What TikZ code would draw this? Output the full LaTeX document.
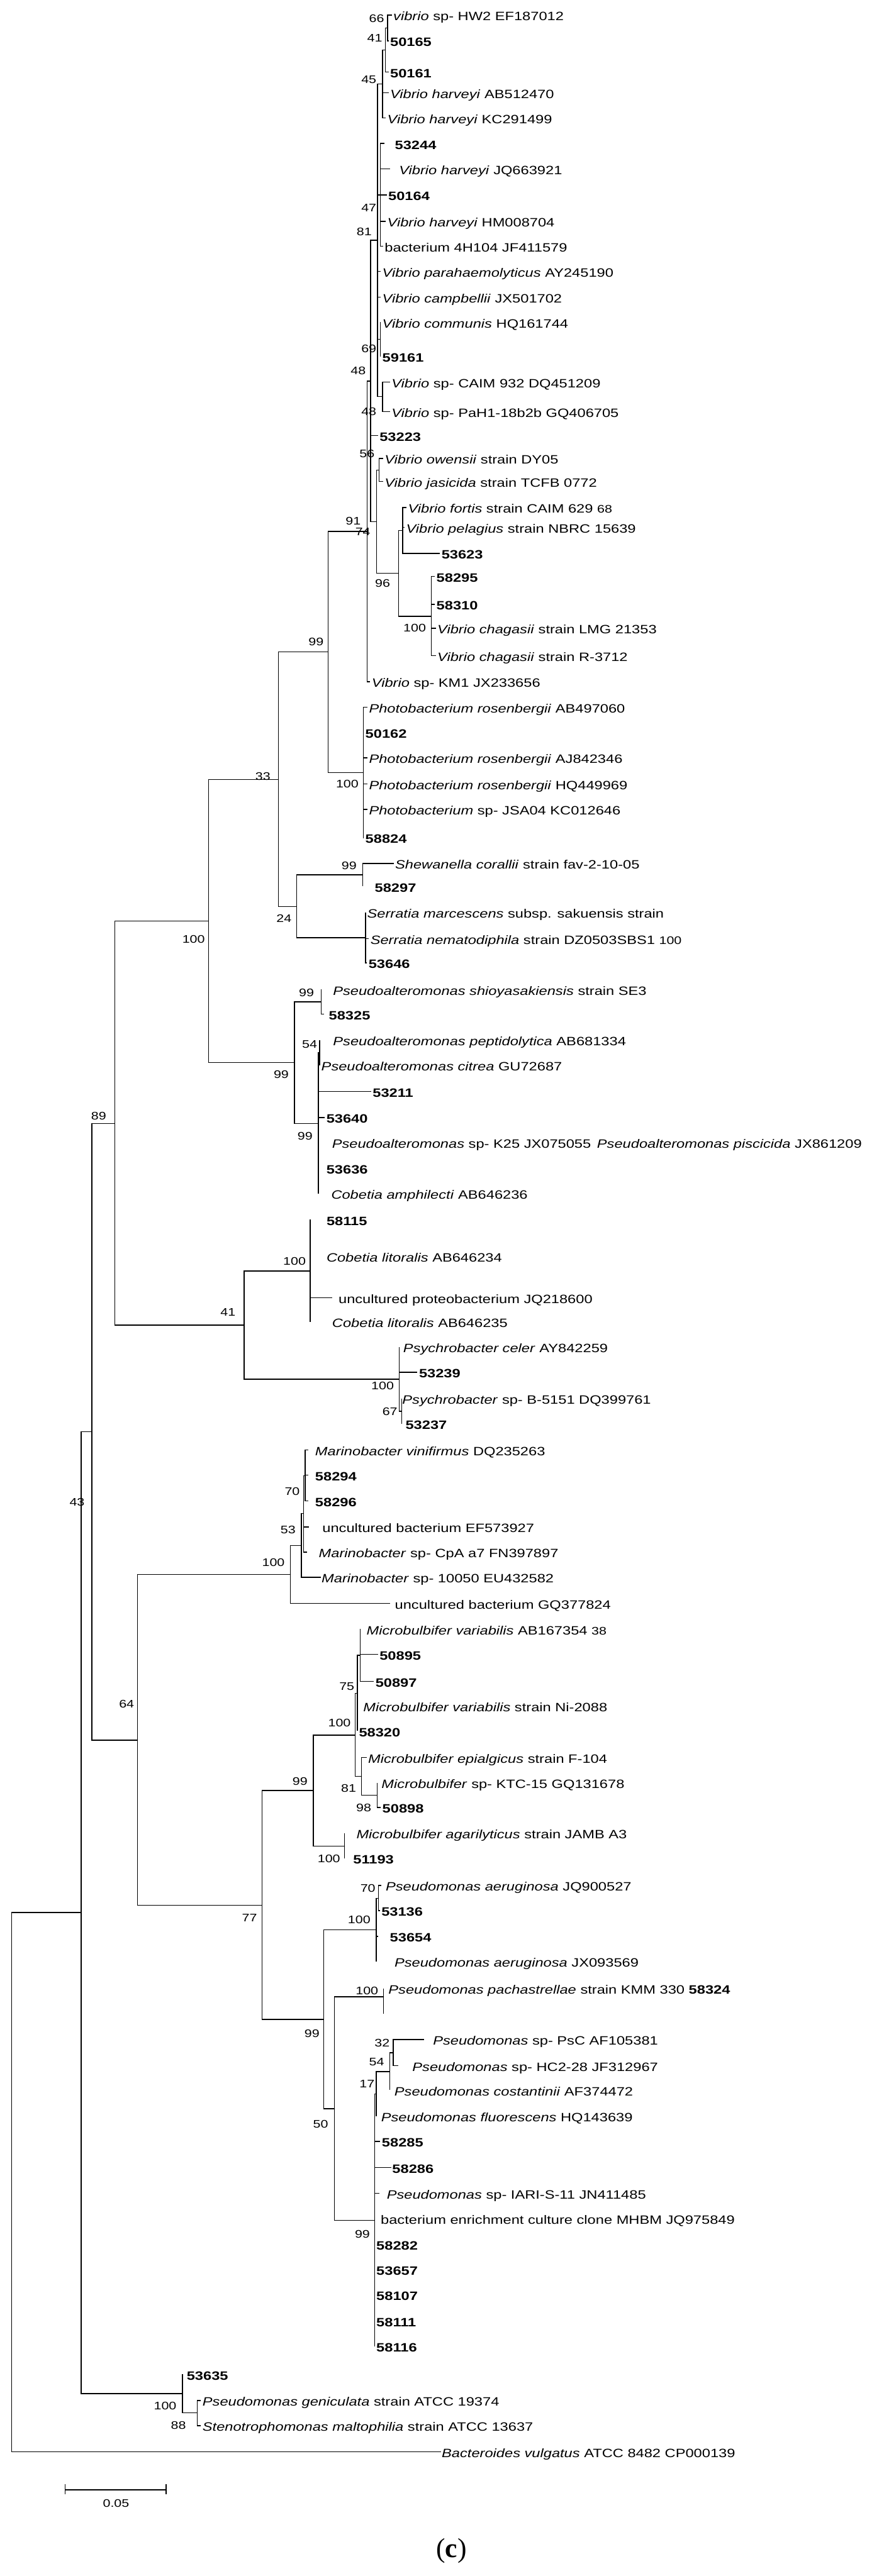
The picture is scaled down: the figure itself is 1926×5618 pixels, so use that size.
\documentclass[tikz,border=0pt]{standalone}
\usepackage{fontspec}
\setmainfont{Liberation Sans}[FakeStretch=1.23]
\newfontfamily\capfont{Liberation Serif}
\newcommand\lfont{\fontsize{7.5}{8}\selectfont}
\newcommand\bsfont{\fontsize{6.8}{7}\selectfont}
\begin{document}
\begin{tikzpicture}[x=0.01cm,y=-0.01cm,line width=0.55pt,
  leaf/.style={anchor=west,inner xsep=1pt,inner ysep=0pt,outer sep=0pt,font=\lfont,text height=1.55ex,text depth=0.25ex},
  bs/.style={inner sep=0pt,font=\bsfont}]
\fill[white] (0,0) rectangle (1926,5618);
\useasboundingbox (0,0) rectangle (1926,5618);
% internal nodes
\coordinate (R) at (25,4759);
\coordinate (A) at (177,4171);
\coordinate (n43) at (200,3122);
\coordinate (n89) at (250,2450);
\coordinate (n64) at (300,3795);
\coordinate (n100t) at (455,2009);
\coordinate (n41) at (532,2890);
\coordinate (n33) at (607,1700);
\coordinate (n99ps) at (642,2317);
\coordinate (n99) at (715,1422);
\coordinate (n24) at (647,1977);
\coordinate (n74) at (800,1159);
\coordinate (n100p) at (792,1685);
\coordinate (n48a) at (808,831);
\coordinate (n81) at (823,524);
\coordinate (n45) at (834,183);
\coordinate (n41v) at (840,109);
\coordinate (n66) at (845,61);
\coordinate (n47) at (829,425);
\coordinate (n69) at (829,740);
\coordinate (n48b) at (834,865);
\coordinate (n91) at (821,1138);
\coordinate (n56) at (826,1025);
\coordinate (n96) at (869,1250);
\coordinate (n68) at (878,1157);
\coordinate (n100c) at (940,1344);
\coordinate (n99s) at (791,1908);
\coordinate (n100s) at (797,2045);
\coordinate (n99shio) at (700,2185);
\coordinate (n99pa) at (694,2450);
\coordinate (n54) at (697,2296);
\coordinate (n100cob) at (676,2772);
\coordinate (n100psy) at (870,3008);
\coordinate (n67) at (876,3078);
\coordinate (n100m) at (633,3434);
\coordinate (n53) at (657,3371);
\coordinate (nE) at (662,3301);
\coordinate (n70m) at (665,3218);
\coordinate (n77) at (571,4155);
\coordinate (n99m) at (683,3905);
\coordinate (n100a) at (774,3784);
\coordinate (n75) at (779,3693);
\coordinate (nX) at (785,3610);
\coordinate (n81m) at (788,3874);
\coordinate (n98) at (822,3915);
\coordinate (n100b) at (751,4026);
\coordinate (n99p) at (706,4404);
\coordinate (n100ae) at (820,4209);
\coordinate (n70p) at (825,4140);
\coordinate (n50) at (729,4599);
\coordinate (n100pa) at (836,4355);
\coordinate (L77b) at (836,4392);
\coordinate (n99b) at (817,4842);
\coordinate (n17) at (820,4567);
\coordinate (n54p) at (850,4518);
\coordinate (n32) at (857,4477);
\coordinate (n398) at (398,5220);
\coordinate (n100g) at (430,5262);
% leaves
\node[leaf] (L1) at (854,33) {\textit{vibrio} sp- HW2 EF187012};
\node[leaf] (L2) at (847,89) {\textbf{50165}};
\node[leaf] (L3) at (847,157) {\textbf{50161}};
\node[leaf] (L4) at (847,202) {\textit{Vibrio harveyi} AB512470};
\node[leaf] (L5) at (841,257) {\textit{Vibrio harveyi} KC291499};
\node[leaf,inner xsep=6.5pt] (L6) at (838,313) {\textbf{53244}};
\node[leaf,inner xsep=5.4pt] (L7) at (851,368) {\textit{Vibrio harveyi} JQ663921};
\node[leaf] (L8) at (843,425) {\textbf{50164}};
\node[leaf] (L9) at (841,483) {\textit{Vibrio harveyi} HM008704};
\node[leaf] (L10) at (835,537) {bacterium 4H104 JF411579};
\node[leaf] (L11) at (830,592) {\textit{Vibrio parahaemolyticus} AY245190};
\node[leaf] (L12) at (830,648) {\textit{Vibrio campbellii} JX501702};
\node[leaf] (L13) at (830,703) {\textit{Vibrio communis} HQ161744};
\node[leaf] (L14) at (830,777) {\textbf{59161}};
\node[leaf] (L15) at (850,833) {\textit{Vibrio} sp- CAIM 932 DQ451209};
\node[leaf] (L16) at (850,898) {\textit{Vibrio} sp- PaH1-18b2b GQ406705};
\node[leaf] (L17) at (824,950) {\textbf{53223}};
\node[leaf] (L18) at (835,1000) {\textit{Vibrio owensii} strain DY05};
\node[leaf] (L19) at (835,1050) {\textit{Vibrio jasicida} strain TCFB 0772};
\node[leaf] (L20) at (886,1107) {\textit{Vibrio fortis} strain CAIM 629 {\bsfont 68}};
\node[leaf] (L21) at (882,1150) {\textit{Vibrio pelagius} strain NBRC 15639};
\node[leaf] (L22) at (959,1207) {\textbf{53623}};
\node[leaf] (L23) at (948,1257) {\textbf{58295}};
\node[leaf] (L24) at (948,1318) {\textbf{58310}};
\node[leaf] (L25) at (950,1370) {\textit{Vibrio chagasii} strain LMG 21353};
\node[leaf] (L26) at (950,1430) {\textit{Vibrio chagasii} strain R-3712};
\node[leaf] (L27) at (807,1487) {\textit{Vibrio} sp- KM1 JX233656};
\node[leaf] (L28) at (801,1542) {\textit{Photobacterium rosenbergii} AB497060};
\node[leaf] (L29) at (793,1598) {\textbf{50162}};
\node[leaf] (L30) at (801,1653) {\textit{Photobacterium rosenbergii} AJ842346};
\node[leaf] (L31) at (801,1710) {\textit{Photobacterium rosenbergii} HQ449969};
\node[leaf] (L32) at (801,1765) {\textit{Photobacterium} sp- JSA04 KC012646};
\node[leaf] (L33) at (793,1827) {\textbf{58824}};
\node[leaf] (L34) at (858,1883) {\textit{Shewanella corallii} strain fav-2-10-05};
\node[leaf,inner xsep=7.4pt] (L35) at (791,1933) {\textbf{58297}};
\node[leaf] (L36) at (797,1990) {\textit{Serratia marcescens} subsp. sakuensis strain};
\node[leaf] (L37) at (804,2047) {\textit{Serratia nematodiphila} strain DZ0503SBS1 {\bsfont 100}};
\node[leaf] (L38) at (800,2100) {\textbf{53646}};
\node[leaf,inner xsep=7.4pt] (L39) at (700,2158) {\textit{Pseudoalteromonas shioyasakiensis} strain SE3};
\node[leaf,inner xsep=3.1pt] (L40) at (706,2212) {\textbf{58325}};
\node[leaf,inner xsep=8.3pt] (L41) at (697,2268) {\textit{Pseudoalteromonas peptidolytica} AB681334};
\node[leaf] (L42) at (697,2323) {\textit{Pseudoalteromonas citrea} GU72687};
\node[leaf] (L43) at (809,2380) {\textbf{53211}};
\node[leaf] (L44) at (708,2437) {\textbf{53640}};
\node[leaf,inner xsep=8.5pt] (L45) at (694,2492) {\textit{Pseudoalteromonas} sp- K25 JX075055\enspace\textit{Pseudoalteromonas piscicida} JX861209};
\node[leaf,inner xsep=5pt] (L46) at (694,2548) {\textbf{53636}};
\node[leaf,inner xsep=8pt] (L47) at (694,2603) {\textit{Cobetia amphilecti} AB646236};
\node[leaf,inner xsep=10.2pt] (L48) at (676,2660) {\textbf{58115}};
\node[leaf,inner xsep=10.2pt] (L49) at (676,2740) {\textit{Cobetia litoralis} AB646234};
\node[leaf,inner xsep=4pt] (L50) at (724,2830) {uncultured proteobacterium JQ218600};
\node[leaf,inner xsep=13.7pt] (L51) at (676,2883) {\textit{Cobetia litoralis} AB646235};
\node[leaf,inner xsep=2.6pt] (L52) at (870,2938) {\textit{Psychrobacter celer} AY842259};
\node[leaf] (L53) at (910,2993) {\textbf{53239}};
\node[leaf,inner xsep=0.3pt] (L54) at (876,3050) {\textit{Psychrobacter} sp- B-5151 DQ399761};
\node[leaf,inner xsep=2.3pt] (L55) at (876,3105) {\textbf{53237}};
\node[leaf,inner xsep=4.3pt] (L56) at (672,3162) {\textit{Marinobacter vinifirmus} DQ235263};
\node[leaf,inner xsep=4.3pt] (L57) at (672,3217) {\textbf{58294}};
\node[leaf,inner xsep=4.3pt] (L58) at (672,3273) {\textbf{58296}};
\node[leaf,inner xsep=8.2pt] (L59) at (674,3330) {uncultured bacterium EF573927};
\node[leaf,inner xsep=7.4pt] (L60) at (669,3385) {\textit{Marinobacter} sp- CpA a7 FN397897};
\node[leaf,inner xsep=0.6pt] (L61) at (699,3440) {\textit{Marinobacter} sp- 10050 EU432582};
\node[leaf,inner xsep=3.1pt] (L62) at (850,3497) {uncultured bacterium GQ377824};
\node[leaf,inner xsep=4pt] (L63) at (785,3553) {\textit{Microbulbifer variabilis} AB167354 {\bsfont 38}};
\node[leaf] (L64) at (824,3608) {\textbf{50895}};
\node[leaf] (L65) at (815,3667) {\textbf{50897}};
\node[leaf,inner xsep=3.7pt] (L66) at (779,3720) {\textit{Microbulbifer variabilis} strain Ni-2088};
\node[leaf] (L67) at (779,3775) {\textbf{58320}};
\node[leaf] (L68) at (799,3833) {\textit{Microbulbifer epialgicus} strain F-104};
\node[leaf,inner xsep=2.8pt] (L69) at (822,3888) {\textit{Microbulbifer} sp- KTC-15 GQ131678};
\node[leaf] (L70) at (830,3942) {\textbf{50898}};
\node[leaf,inner xsep=7.4pt] (L71) at (751,3998) {\textit{Microbulbifer agarilyticus} strain JAMB A3};
\node[leaf,inner xsep=5.4pt] (L72) at (751,4053) {\textbf{51193}};
\node[leaf,inner xsep=2.8pt] (L73) at (831,4112) {\textit{Pseudomonas aeruginosa} JQ900527};
\node[leaf] (L74) at (828,4167) {\textbf{53136}};
\node[leaf,inner xsep=7.4pt] (L75) at (824,4223) {\textbf{53654}};
\node[leaf,inner xsep=11.4pt] (L76) at (820,4278) {\textit{Pseudomonas aeruginosa} JX093569};
\node[leaf,inner xsep=3.1pt] (L77) at (836,4337) {\textit{Pseudomonas pachastrellae} strain KMM 330 \textbf{58324}};
\node[leaf,inner xsep=5.4pt] (L78) at (925,4448) {\textit{Pseudomonas} sp- PsC AF105381};
\node[leaf,inner xsep=8.8pt] (L79) at (868,4505) {\textit{Pseudomonas} sp- HC2-28 JF312967};
\node[leaf,inner xsep=2.8pt] (L80) at (850,4558) {\textit{Pseudomonas costantinii} AF374472};
\node[leaf,inner xsep=3.1pt] (L81) at (820,4615) {\textit{Pseudomonas fluorescens} HQ143639};
\node[leaf] (L82) at (829,4670) {\textbf{58285}};
\node[leaf,inner xsep=0.6pt] (L83) at (853,4727) {\textbf{58286}};
\node[leaf,inner xsep=4.6pt] (L84) at (827,4783) {\textit{Pseudomonas} sp- IARI-S-11 JN411485};
\node[leaf,inner xsep=3.7pt] (L85) at (817,4838) {bacterium enrichment culture clone MHBM JQ975849};
\node[leaf] (L86) at (817,4895) {\textbf{58282}};
\node[leaf] (L87) at (817,4950) {\textbf{53657}};
\node[leaf] (L88) at (817,5005) {\textbf{58107}};
\node[leaf] (L89) at (817,5062) {\textbf{58111}};
\node[leaf] (L90) at (817,5117) {\textbf{58116}};
\node[leaf,inner xsep=2.6pt] (L91) at (398,5178) {\textbf{53635}};
\node[leaf] (L92) at (438,5235) {\textit{Pseudomonas geniculata} strain ATCC 19374};
\node[leaf] (L93) at (438,5290) {\textit{Stenotrophomonas maltophilia} strain ATCC 13637};
\node[leaf,inner xsep=0.6pt] (L94) at (961,5347) {\textit{Bacteroides vulgatus} ATCC 8482 CP000139};
% internal branches
\foreach \p/\c in {R/A, A/n43, A/n398, n43/n89, n43/n64, n89/n100t, n89/n41, n100t/n33, n100t/n99ps,
  n33/n99, n33/n24, n99/n74, n99/n100p, n74/n48a, n48a/n81, n48a/n91, n81/n45, n81/n47, n81/n69,
  n81/n48b, n45/n41v, n41v/n66, n91/n56, n91/n96, n96/n68, n96/n100c, n24/n99s, n24/n100s,
  n99ps/n99shio, n99ps/n99pa, n99pa/n54, n41/n100cob, n41/n100psy, n100psy/n67, n64/n100m, n64/n77,
  n100m/n53, n53/nE, nE/n70m, n77/n99m, n77/n99p, n99m/n100a, n99m/n100b, n100a/n75, n100a/n81m,
  n75/nX, n81m/n98, n99p/n100ae, n99p/n50, n100ae/n70p, n50/n100pa, n50/n99b, n100pa/L77b,
  n99b/n17, n17/n54p, n54p/n32, n398/n100g}
  \draw (\p) |- (\c);
% leaf branches
\foreach \p/\c in {n66/L1, n66/L2, n41v/L3, n45/L4, n45/L5, n47/L6, n47/L7, n47/L8, n47/L9, n47/L10,
  n81/L11, n81/L12, n69/L13, n69/L14, n48b/L15, n48b/L16, n48a/L17, n56/L18, n56/L19, n68/L20,
  n68/L21, n68/L22, n100c/L23, n100c/L24, n100c/L25, n100c/L26, n74/L27, n100p/L28, n100p/L29,
  n100p/L30, n100p/L31, n100p/L32, n100p/L33, n99s/L34, n99s/L35, n100s/L36, n100s/L37, n100s/L38,
  n99shio/L39, n99shio/L40, n54/L41, n54/L42, n99pa/L43, n99pa/L44, n99pa/L45, n99pa/L46, n99pa/L47,
  n100cob/L48, n100cob/L49, n100cob/L50, n100cob/L51, n100psy/L52, n100psy/L53, n67/L54, n67/L55,
  n70m/L56, n70m/L57, n70m/L58, nE/L59, nE/L60, n53/L61, n100m/L62, nX/L63, nX/L64, nX/L65,
  n75/L66, n75/L67, n81m/L68, n98/L69, n98/L70, n100b/L71, n100b/L72, n70p/L73, n70p/L74,
  n100ae/L75, n100ae/L76, n100pa/L77, n32/L78, n32/L79, n54p/L80, n17/L81, n99b/L82, n99b/L83,
  n99b/L84, n99b/L85, n99b/L86, n99b/L87, n99b/L88, n99b/L89, n99b/L90, n398/L91, n100g/L92,
  n100g/L93, R/L94}
  \draw (\p) |- (\c.west);
% bootstrap values
\foreach [count=\i] \x/\y/\t in {821/40/66, 817/83/41, 804/173/45, 804/453/47, 794/505/81, 804/760/69,
  781/808/48, 804/898/48, 800/990/56, 770/1137/91, 791/1160/74, 834/1272/96, 904/1370/100,
  689/1400/99, 757/1710/100, 573/1693/33, 761/1888/99, 619/2003/24, 422/2048/100, 668/2165/99,
  675/2277/54, 613/2343/99, 665/2478/99, 215/2434/89, 642/2750/100, 497/2862/41, 834/3022/100,
  850/3078/67, 637/3253/70, 628/3337/53, 596/3407/100, 168/3276/43, 276/3716/64, 756/3678/75,
  740/3758/100, 654/3885/99, 760/3900/81, 793/3942/98, 717/4053/100, 802/4118/70, 783/4187/100,
  544/4183/77, 800/4342/100, 680/4435/99, 833/4455/32, 821/4497/54, 800/4545/17, 699/4632/50,
  790/4872/99, 360/5247/100, 389/5290/88}
  \node[bs] (b\i) at (\x,\y) {\t};
% scale bar
\coordinate (sb1) at (142,5430);
\coordinate (sb2) at (362,5430);
\draw (sb1) -- (sb2);
\draw ([yshift=0.12cm]sb1) -- ([yshift=-0.1cm]sb1);
\draw ([yshift=0.12cm]sb2) -- ([yshift=-0.1cm]sb2);
\node[bs] (sbl) at (253,5460) {0.05};
% caption
\node[inner sep=0pt,font=\capfont\fontsize{17}{20}\selectfont] (cap) at (984,5563) {(\textbf{c})};
\end{tikzpicture}
\end{document}
